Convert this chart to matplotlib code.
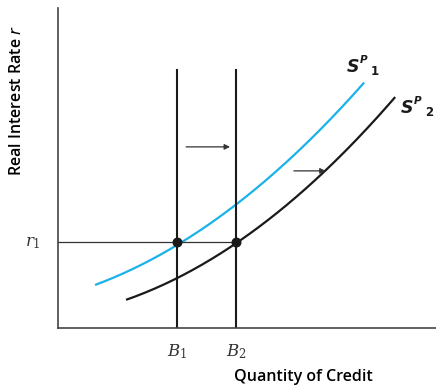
import numpy as np
import matplotlib
matplotlib.use("Agg")
import matplotlib.pyplot as plt

# curve points (x = quantity of credit, y = real rate)
sp1_x = [9.8, 20.4, 31.5, 47.1, 52.6, 70.0, 81.0]
sp1_y = [12.5, 19.7, 26.9, 38.4, 43.1, 61.9, 77.5]
sp2_x = [18.0, 31.5, 47.1, 65.9, 77.2, 89.2]
sp2_y = [8.1, 16.6, 26.9, 43.1, 56.2, 72.8]

b1, b2 = 31.5, 47.1
r1 = 26.9
v_top = 80.6

fig = plt.figure(figsize=(4.36, 3.86), dpi=100, facecolor='w')
ax = fig.add_axes([58/436, 58/386, 378/436, 320/386])
ax.set_xlim(0, 100)
ax.set_ylim(0, 100)

for s in ['top', 'right']:
    ax.spines[s].set_visible(False)
for s in ['left', 'bottom']:
    ax.spines[s].set_color('#444444')
    ax.spines[s].set_linewidth(1.2)
ax.set_xticks([])
ax.set_yticks([])

# smooth the read points a little for drawing
def smooth(xs, ys):
    xs = np.array(xs); ys = np.array(ys)
    c = np.polyfit(xs, ys, 2)
    xx = np.linspace(xs[0], xs[-1], 200)
    return xx, np.polyval(c, xx)

x1, y1 = smooth(sp1_x, sp1_y)
x2, y2 = smooth(sp2_x, sp2_y)
ax.plot(x1, y1, color='#1ab2ea', lw=1.6, solid_capstyle='butt')
ax.plot(x2, y2, color='#1a1a1a', lw=1.6, solid_capstyle='butt')

ax.plot([b1, b1], [0, v_top], color='#1a1a1a', lw=1.5)
ax.plot([b2, b2], [0, v_top], color='#1a1a1a', lw=1.5)
ax.plot([0, b2], [r1, r1], color='#333333', lw=0.9)
ax.scatter([b1, b2], [r1, r1], s=38, color='#1a1a1a', zorder=5)

# shift arrows
ax.annotate('', xy=(45.5, 56.6), xytext=(33.9, 56.6),
            arrowprops=dict(arrowstyle='-|>', color='#333333', lw=0.9,
                            mutation_scale=8, shrinkA=0, shrinkB=0))
ax.annotate('', xy=(70.8, 49.1), xytext=(62.4, 49.1),
            arrowprops=dict(arrowstyle='-|>', color='#333333', lw=0.9,
                            mutation_scale=8, shrinkA=0, shrinkB=0))

# curve labels
for lx, ly, n in [(76.5, 80.0, '1'), (90.8, 67.2, '2')]:
    ax.text(lx, ly, 'S', fontsize=12.5, fontweight='bold', style='italic',
            color='#1a1a1a', ha='left', va='baseline')
    ax.text(lx + 3.3, ly + 2.9, 'P', fontsize=7.5, fontweight='bold',
            style='italic', color='#1a1a1a', ha='left', va='baseline')
    ax.text(lx + 6.3, ly - 1.0, n, fontsize=8.5, fontweight='bold',
            color='#1a1a1a', ha='left', va='baseline')

ax.text(-4.5, r1, r'$r_1$', fontsize=12, ha='right', va='center',
        color='#333333', math_fontfamily='dejavuserif')
ax.text(b1, -4.5, r'$B_1$', fontsize=12, ha='center', va='top',
        color='#333333', math_fontfamily='dejavuserif')
ax.text(b2, -4.5, r'$B_2$', fontsize=12, ha='center', va='top',
        color='#333333', math_fontfamily='dejavuserif')

fig.text(303/436, 1 - 377/386, 'Quantity of Credit', fontsize=11.5,
         fontweight='semibold', ha='center', va='center', family='Open Sans')
fig.text(17/436, 1 - 101/386, 'Real Interest Rate $r$', fontsize=11.5,
         fontweight='semibold', ha='center', va='center', rotation=90,
         family='Open Sans', math_fontfamily='dejavusans')

fig.savefig('out.png', dpi=100, facecolor='w')
